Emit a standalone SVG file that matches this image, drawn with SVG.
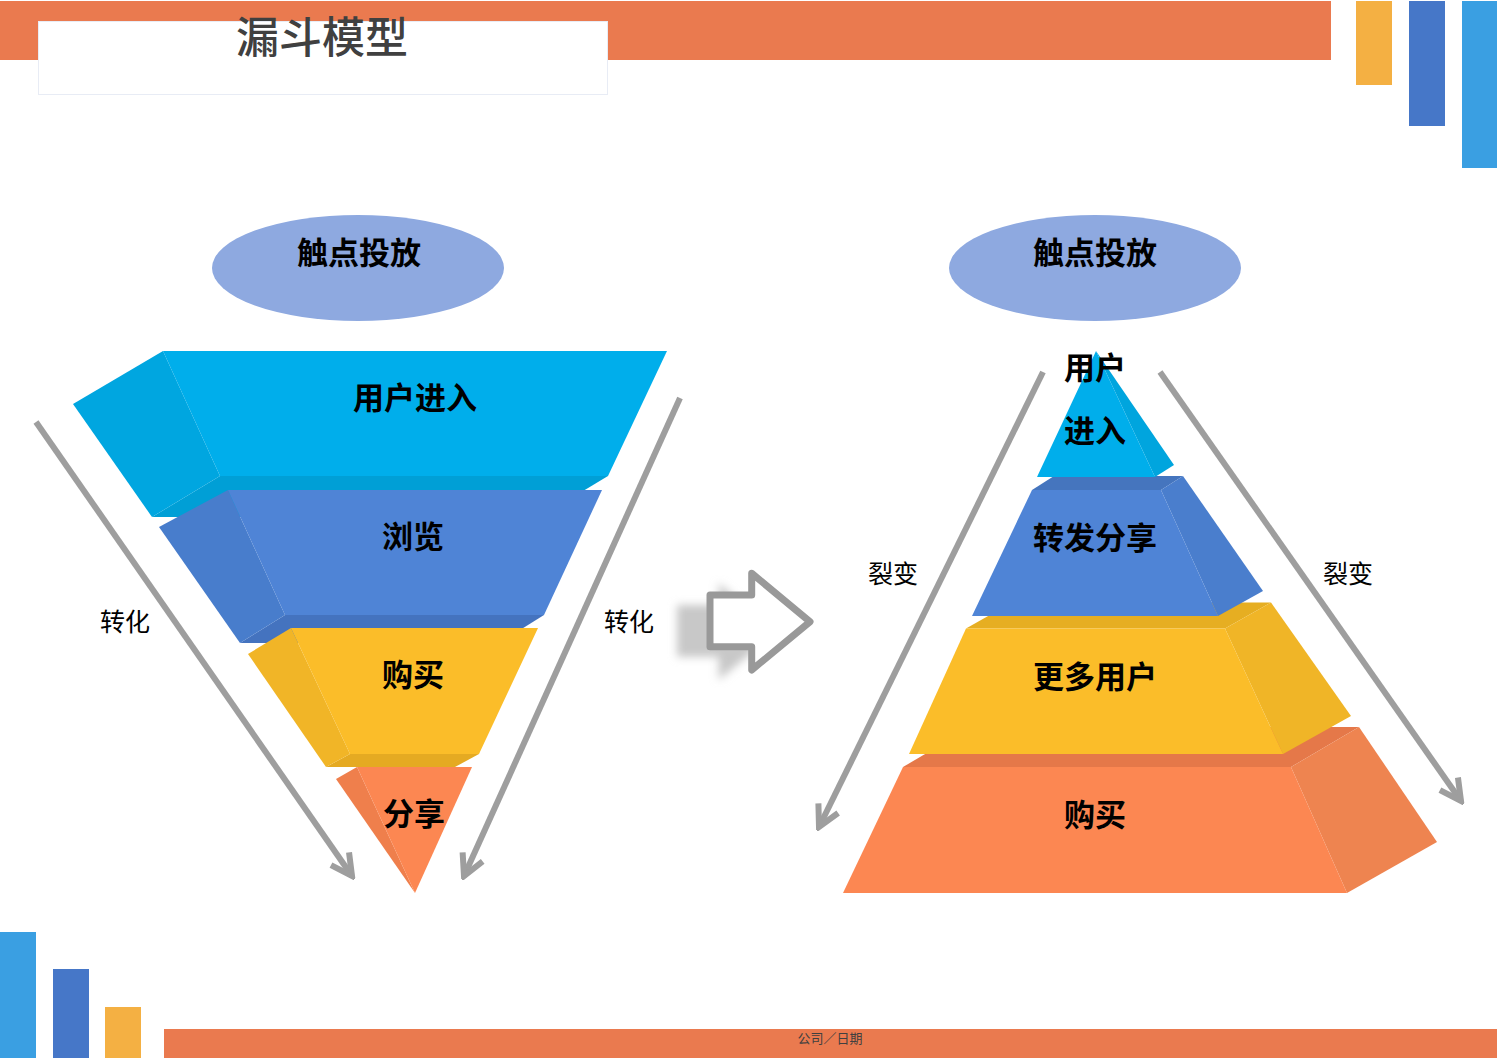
<svg xmlns="http://www.w3.org/2000/svg" width="1497" height="1058" viewBox="0 0 1497 1058">
<defs>
<style>
.t{font-family:"Noto Sans CJK SC","Noto Sans",sans-serif;fill:#000;text-anchor:middle}
.lbl{font-size:31px;font-weight:700}
.side{font-size:25px;font-weight:400}
.conn{stroke:#9E9E9E;stroke-width:6;fill:none;marker-end:url(#chev)}
</style>
<marker id="chev" markerUnits="userSpaceOnUse" viewBox="-26 -14 30 28" refX="0" refY="0" markerWidth="30" markerHeight="28" orient="auto">
<path d="M-21,-11 L0,0 L-21,11" fill="none" stroke="#9E9E9E" stroke-width="6" stroke-linejoin="miter"/>
</marker>
<filter id="blur" x="-30%" y="-30%" width="160%" height="160%"><feGaussianBlur stdDeviation="4"/></filter>
</defs>
<rect width="1497" height="1058" fill="#fff"/>
<g id="decor">
<rect x="0" y="1" width="1331" height="59" fill="#EA7A4F"/>
<rect x="38.5" y="21.5" width="569" height="73" fill="#fff" stroke="#E8ECF5" stroke-width="1"/>
<text x="322" y="53" style="font-family:'Noto Sans CJK SC',sans-serif;font-size:43px;font-weight:500;fill:#404040;text-anchor:middle">漏斗模型</text>
<rect x="1356" y="1" width="36" height="84" fill="#F4B043"/>
<rect x="1409" y="1" width="36" height="125" fill="#4677C8"/>
<rect x="1462" y="1" width="35" height="167" fill="#3A9FE2"/>
<rect x="0" y="932" width="36" height="126" fill="#3A9FE2"/>
<rect x="53" y="969" width="36" height="89" fill="#4677C8"/>
<rect x="105" y="1007" width="36" height="51" fill="#F4B043"/>
<rect x="164" y="1029" width="1333" height="29" fill="#EA7A4F"/>
<text x="830" y="1043" style="font-family:'Noto Sans CJK SC',sans-serif;font-size:13px;fill:#404040;text-anchor:middle">公司／日期</text>
</g>
<g id="ellipse-left">
<ellipse cx="358" cy="268" rx="146" ry="53" fill="#8EA9E0"/>
<text class="t lbl" x="359" y="264">触点投放</text>
</g>
<g id="ellipse-right">
<ellipse cx="1095" cy="268" rx="146" ry="53" fill="#8EA9E0"/>
<text class="t lbl" x="1095" y="264">触点投放</text>
</g>
<g id="funnel-1">
<polygon points="220,476 608,476 540,517 152,517" fill="#009FD6"/>
<polygon points="73,404 163,351 220,476 152,517" fill="#00A6E0"/>
<polygon points="163,351 667,351 608,476 220,476" fill="#00AEEB"/>
<text class="t lbl" x="415" y="409">用户进入</text>
</g>
<g id="funnel-2">
<polygon points="285,615 544,615 499,643 240,643" fill="#4473BF"/>
<polygon points="159,527 228,490 285,615 240,643" fill="#487DCC"/>
<polygon points="228,490 602,490 544,615 285,615" fill="#4F84D6"/>
<text class="t lbl" x="413" y="548">浏览</text>
</g>
<g id="funnel-3">
<polygon points="350,754 479,754 455,767 326,767" fill="#E5AA22"/>
<polygon points="248,654 291,628 350,754 326,767" fill="#F1B527"/>
<polygon points="291,628 538,628 479,754 350,754" fill="#FBBD29"/>
<text class="t lbl" x="413" y="686">购买</text>
</g>
<g id="funnel-4">
<polygon points="336,779 357,767 415,893" fill="#EF7F4C"/>
<polygon points="357,767 472,767 415,893" fill="#FC8752"/>
<text class="t lbl" x="414" y="825">分享</text>
</g>
<g id="pyramid-4">
<polygon points="903,767 1291,767 1359,727 971,727" fill="#E57849"/>
<polygon points="1291,767 1359,727 1437,842 1347,893" fill="#EE8450"/>
<polygon points="903,767 1291,767 1347,893 843,893" fill="#FC8752"/>
<text class="t lbl" x="1095" y="826">购买</text>
</g>
<g id="pyramid-3">
<polygon points="966,628.6 1225,628.6 1271,602.5 1012,602.5" fill="#E6AE22"/>
<polygon points="1225,628.6 1271,602.5 1351,716 1283,754" fill="#F0B527"/>
<polygon points="966,628.6 1225,628.6 1283,754 909,754" fill="#FBBD29"/>
<text class="t lbl" x="1095" y="688">更多用户</text>
</g>
<g id="pyramid-2">
<polygon points="1032,490 1161,490 1183,476 1054,476" fill="#4575BE"/>
<polygon points="1161,490 1183,476 1263,591 1218,616" fill="#4A7ECD"/>
<polygon points="1032,490 1161,490 1218,616 972,616" fill="#4F84D6"/>
<text class="t lbl" x="1095" y="549">转发分享</text>
</g>
<g id="pyramid-1">
<polygon points="1096,351 1174,465 1155,477" fill="#00A5DE"/>
<polygon points="1096,351 1155,477 1037,477" fill="#00AEEB"/>
<text class="t lbl" x="1095" y="379">用户</text>
<text class="t lbl" x="1095" y="442">进入</text>
</g>
<g id="big-arrow">
<polygon points="677,605 718.7,605 718.7,583.3 777,631.7 718.7,680 718.7,656.7 677,656.7" fill="#C8C8C8" filter="url(#blur)"/>
<polygon points="710,595 751.7,595 751.7,573.3 810,621.7 751.7,670 751.7,646.7 710,646.7" fill="#fff" stroke="#999" stroke-width="7" stroke-linejoin="round"/>
</g>
<g id="connectors">
<line class="conn" x1="36" y1="422" x2="352" y2="876"/>
<line class="conn" x1="680" y1="398" x2="464" y2="876"/>
<line class="conn" x1="1043" y1="372" x2="819" y2="827"/>
<line class="conn" x1="1160" y1="372" x2="1461" y2="801"/>
</g>
<g id="labels">
<text class="t side" x="125" y="631">转化</text>
<text class="t side" x="629" y="631">转化</text>
<text class="t side" x="893" y="583">裂变</text>
<text class="t side" x="1348" y="583">裂变</text>
</g>
</svg>
